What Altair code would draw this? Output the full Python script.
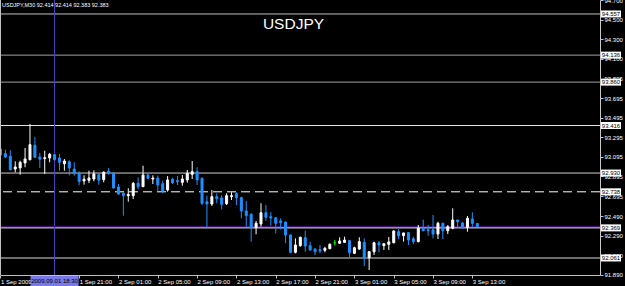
import altair as alt
import pandas as pd

symbol = "USDJPY"
timeframe = "M30"
first_bar = "2009-09-01T13:00:00Z"

opens = [93.176, 93.128, 93.101, 92.971, 92.982, 93.033, 93.066, 93.214, 93.094, 93.077,
         93.084, 93.118, 93.084, 93.025, 93.046, 92.971, 92.930, 92.849, 92.856, 92.869,
         92.913, 92.862, 92.948, 92.930, 92.787, 92.723, 92.698, 92.698, 92.825, 92.790,
         92.910, 92.869, 92.879, 92.821, 92.756, 92.866, 92.852, 92.835, 92.859, 92.917,
         92.944, 92.876, 92.637, 92.613, 92.688, 92.675, 92.616, 92.688, 92.719, 92.678,
         92.542, 92.508, 92.371, 92.409, 92.524, 92.483, 92.473, 92.439, 92.429, 92.296,
         92.119, 92.187, 92.269, 92.187, 92.153, 92.146, 92.140, 92.156, 92.217, 92.211,
         92.221, 92.238, 92.109, 92.153, 92.221, 92.064, 92.125, 92.217, 92.187, 92.201,
         92.217, 92.330, 92.289, 92.320, 92.258, 92.228, 92.365, 92.350, 92.350, 92.306,
         92.416, 92.340, 92.365, 92.450, 92.419, 92.375, 92.460, 92.414]
highs = [93.186, 93.169, 93.163, 93.050, 93.056, 93.186, 93.432, 93.299, 93.135, 93.158,
         93.135, 93.125, 93.125, 93.074, 93.060, 93.040, 92.948, 92.907, 92.954, 92.958,
         92.927, 92.948, 92.982, 92.938, 92.818, 92.736, 92.774, 92.838, 92.886, 93.005,
         92.920, 92.907, 92.903, 92.852, 92.900, 92.882, 92.900, 92.910, 92.961, 93.053,
         92.989, 92.886, 92.698, 92.756, 92.723, 92.705, 92.723, 92.733, 92.733, 92.688,
         92.644, 92.518, 92.439, 92.620, 92.603, 92.531, 92.477, 92.467, 92.432, 92.303,
         92.262, 92.279, 92.340, 92.228, 92.160, 92.194, 92.176, 92.211, 92.245, 92.273,
         92.279, 92.245, 92.176, 92.273, 92.262, 92.130, 92.228, 92.235, 92.210, 92.276,
         92.344, 92.358, 92.320, 92.324, 92.279, 92.398, 92.453, 92.398, 92.501, 92.432,
         92.422, 92.398, 92.569, 92.452, 92.432, 92.490, 92.528, 92.414]
lows = [93.104, 93.084, 92.958, 92.938, 92.913, 92.989, 93.060, 93.084, 92.982, 92.920,
        93.040, 93.060, 92.954, 92.954, 92.907, 92.903, 92.805, 92.811, 92.828, 92.845,
        92.811, 92.835, 92.913, 92.770, 92.708, 92.494, 92.637, 92.664, 92.764, 92.787,
        92.866, 92.818, 92.749, 92.723, 92.739, 92.818, 92.805, 92.800, 92.831, 92.869,
        92.808, 92.603, 92.365, 92.593, 92.620, 92.559, 92.603, 92.654, 92.603, 92.467,
        92.381, 92.228, 92.303, 92.381, 92.442, 92.391, 92.313, 92.354, 92.211, 92.109,
        92.109, 92.176, 92.125, 92.136, 92.092, 92.109, 92.119, 92.150, 92.187, 92.204,
        92.217, 92.068, 92.102, 92.143, 91.979, 91.938, 92.092, 92.119, 92.143, 92.143,
        92.211, 92.255, 92.228, 92.194, 92.204, 92.221, 92.335, 92.289, 92.262, 92.255,
        92.255, 92.306, 92.354, 92.375, 92.361, 92.330, 92.381, 92.383]
closes = [93.114, 93.094, 92.964, 92.992, 93.040, 93.074, 93.220, 93.091, 93.071, 93.087,
          93.122, 93.066, 93.040, 93.053, 92.982, 92.923, 92.845, 92.866, 92.879, 92.920,
          92.856, 92.938, 92.930, 92.777, 92.716, 92.698, 92.712, 92.825, 92.790, 92.910,
          92.876, 92.879, 92.808, 92.746, 92.859, 92.831, 92.841, 92.869, 92.927, 92.944,
          92.859, 92.620, 92.613, 92.688, 92.667, 92.610, 92.698, 92.698, 92.678, 92.542,
          92.494, 92.371, 92.416, 92.524, 92.477, 92.470, 92.416, 92.422, 92.296, 92.119,
          92.194, 92.273, 92.184, 92.143, 92.125, 92.133, 92.160, 92.201, 92.217, 92.235,
          92.245, 92.115, 92.166, 92.228, 92.056, 92.125, 92.217, 92.194, 92.207, 92.225,
          92.337, 92.289, 92.317, 92.245, 92.228, 92.365, 92.340, 92.340, 92.306, 92.416,
          92.340, 92.381, 92.450, 92.432, 92.375, 92.467, 92.414, 92.383]

tick_times = ["2009-09-01T13:00:00Z", "2009-09-01T17:00:00Z", "2009-09-01T21:00:00Z",
              "2009-09-02T01:00:00Z", "2009-09-02T05:00:00Z", "2009-09-02T09:00:00Z",
              "2009-09-02T13:00:00Z", "2009-09-02T17:00:00Z", "2009-09-02T21:00:00Z",
              "2009-09-03T01:00:00Z", "2009-09-03T05:00:00Z", "2009-09-03T09:00:00Z",
              "2009-09-03T13:00:00Z"]
# the 17:00 label is hidden under the cursor-time box in the reference
tick_labels = ["1 Sep 2009", "", "1 Sep 21:00", "2 Sep 01:00", "2 Sep 05:00",
               "2 Sep 09:00", "2 Sep 13:00", "2 Sep 17:00", "2 Sep 21:00", "3 Sep 01:00",
               "3 Sep 05:00", "3 Sep 09:00", "3 Sep 13:00"]

price_ticks = [91.890, 92.090, 92.290, 92.490, 92.695, 92.895, 93.095, 93.295, 93.495,
               93.695, 93.895, 94.100, 94.300, 94.500, 94.700]

levels = [94.557, 94.136, 93.860, 93.416, 92.930, 92.738, 92.369, 92.061]

cursor_time = "2009-09-01T18:30:00Z"
cursor_label = "2009.09.01 18:30"

# ---- styles (kept apart from data) ----
level_colors = ["#C0C0C0", "#A0A0A0", "#A0A0A0", "#E8E8E8", "#D0D0D0", "#FFFFFF", "#F0F0F0", "#909090"]
level_dashes = [[1, 0], [1, 0], [1, 0], [1, 0], [1, 0], [9, 5], [1, 0], [1, 0]]
level_widths = [1, 1, 1, 1, 1, 1, 1, 1.5]
FONT = "Liberation Sans"
SMALL = 6

times = pd.date_range(first_bar, periods=len(opens), freq="30min").strftime("%Y-%m-%dT%H:%M:%SZ")
df = pd.DataFrame({"t": list(times), "open": opens, "high": highs, "low": lows, "close": closes})


def ms(s):
    return int(pd.Timestamp(s).value // 10**6)


t0 = ms(first_bar)
x_domain = [t0 - 3 * 60000, t0 + 3659 * 60000]
tick_ms = [ms(s) for s in tick_times]

label_expr = "''"
for v, lab in reversed(list(zip(tick_ms, tick_labels))):
    label_expr = f"time(datum.value) == {v} ? '{lab}' : ({label_expr})"

xs = alt.Scale(type="utc", domain=x_domain)
ys = alt.Scale(domain=[91.887, 94.700], nice=False, zero=False)

x_axis = alt.Axis(values=tick_ms, labelExpr=label_expr, title="", grid=False, orient="bottom",
                  domainColor="#C0C0C0", tickColor="#C0C0C0", tickSize=3, labelColor="#FFFFFF",
                  labelFont=FONT, labelFontSize=SMALL, labelAlign="left", labelBaseline="top",
                  labelPadding=0, labelFlush=False, labelOverlap=False)
y_axis = alt.Axis(values=price_ticks, format=".3f", title="", grid=False, orient="right",
                  domainColor="#C8C8C8", tickColor="#C8C8C8", tickSize=3, labelColor="#FFFFFF",
                  labelFont=FONT, labelFontSize=SMALL, labelAlign="left", labelBaseline="middle",
                  labelPadding=1, labelFlush=False, labelOverlap=False)

dir_scale = alt.Scale(domain=["up", "down", "doji"], range=["#FFFFFF", "#1E90FF", "#00FF00"])

base = alt.Chart(df).transform_calculate(
    dir="datum.close > datum.open ? 'up' : (datum.close < datum.open ? 'down' : 'doji')"
)

wicks = base.mark_rule(strokeWidth=1).encode(
    x=alt.X("t:T", scale=xs, axis=x_axis),
    y=alt.Y("low:Q", scale=ys, axis=y_axis),
    y2="high:Q",
    color=alt.Color("dir:N", scale=dir_scale, legend=None),
)
bodies = base.mark_rect(xOffset=-1, x2Offset=1, strokeWidth=1).encode(
    x=alt.X("t:T", scale=xs, axis=x_axis),
    x2="t:T",
    y=alt.Y("open:Q", scale=ys, axis=y_axis),
    y2="close:Q",
    color=alt.Color("dir:N", scale=dir_scale, legend=None),
    stroke=alt.Stroke("dir:N", scale=dir_scale, legend=None),
)

layers = []
for lvl, col, dash, w in zip(levels, level_colors, level_dashes, level_widths):
    layers.append(
        alt.Chart(pd.DataFrame({"level": [lvl]})).mark_rule(color=col, strokeDash=dash, strokeWidth=w).encode(
            y=alt.Y("level:Q", scale=ys, axis=y_axis)
        )
    )

cursor_df = pd.DataFrame({"t": [cursor_time], "label": [cursor_label]})
cursor_line = alt.Chart(cursor_df).mark_rule(color="#4B40C0", strokeWidth=1).encode(
    x=alt.X("t:T", scale=xs, axis=x_axis)
)
bid_df = pd.DataFrame({"price": [closes[-1]]})
bid_line = alt.Chart(bid_df).mark_rule(color="#3C0F70", strokeWidth=1).encode(
    y=alt.Y("price:Q", scale=ys, axis=y_axis)
)

lvl_df = pd.DataFrame({"level": levels})
lvl_boxes = alt.Chart(lvl_df).mark_rect(yOffset=-3.5, y2Offset=3.5, color="#FFFFFF").encode(
    x=alt.value(601), x2=alt.value(621),
    y=alt.Y("level:Q", scale=ys, axis=y_axis), y2="level:Q",
)
lvl_text = alt.Chart(lvl_df).mark_text(font=FONT, fontSize=SMALL, color="#000000",
                                       align="center", baseline="middle").encode(
    x=alt.value(611),
    y=alt.Y("level:Q", scale=ys, axis=y_axis),
    text=alt.Text("level:Q", format=".3f"),
)

cursor_box = alt.Chart(cursor_df).mark_rect(xOffset=-24, x2Offset=24, color="#7878E8").encode(
    x=alt.X("t:T", scale=xs, axis=x_axis), x2="t:T",
    y=alt.value(276), y2=alt.value(286),
)
cursor_text = alt.Chart(cursor_df).mark_text(font=FONT, fontSize=SMALL, color="#000000",
                                             align="center", baseline="middle").encode(
    x=alt.X("t:T", scale=xs, axis=x_axis), y=alt.value(281), text="label:N"
)

head_df = pd.DataFrame({"txt": [f"{symbol},{timeframe} {opens[-1]:.3f} {highs[-1]:.3f} {lows[-1]:.3f} {closes[-1]:.3f}"],
                        "sym": [symbol]})
header = alt.Chart(head_df).mark_text(font=FONT, fontSize=5.5, color="#FFFFFF", align="left",
                                      baseline="alphabetic").encode(
    x=alt.value(2), y=alt.value(6.5), text="txt:N"
)
title = alt.Chart(head_df).mark_text(font=FONT, fontSize=15.5, color="#FFFFFF", align="center",
                                     baseline="alphabetic").encode(
    x=alt.value(293.5), y=alt.value(29), text="sym:N"
)
left_border = alt.Chart(head_df).mark_rule(color="#C0C0C0").encode(x=alt.value(0.5))

chart = alt.layer(
    *layers, cursor_line, bid_line, wicks, bodies, lvl_boxes, lvl_text,
    cursor_box, cursor_text, header, title, left_border
).properties(
    width=600, height=275,
    padding={"left": 0, "top": 0, "right": 25, "bottom": 11},
    autosize="none", background="#000000",
).configure_view(strokeWidth=0)

chart.save("out.html", embed_options={"renderer": "svg", "actions": False})
